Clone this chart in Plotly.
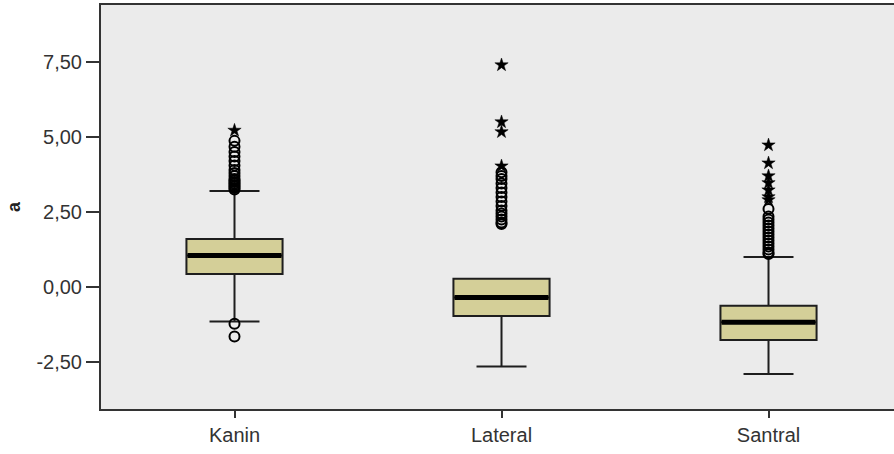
import plotly.graph_objects as go

# Group names and box statistics
groups = ["Kanin", "Lateral", "Santral"]
q1 = [0.43, -0.97, -1.77]
median = [1.05, -0.35, -1.18]
q3 = [1.60, 0.27, -0.63]
lower_whisker = [-1.15, -2.65, -2.90]
upper_whisker = [3.20, 0.27, 1.00]

# Outliers (circles) and extreme values (stars) per group
kanin_out = [3.25, 3.30, 3.35, 3.40, 3.45, 3.50, 3.55, 3.60, 3.70, 3.80, 3.90,
             4.05, 4.20, 4.35, 4.50, 4.67, 4.87, -1.23, -1.65]
kanin_ext = [5.22]
lateral_out = [2.10, 2.15, 2.25, 2.35, 2.45, 2.55, 2.70, 2.85, 3.00, 3.15,
               3.30, 3.45, 3.60, 3.70, 3.82]
lateral_ext = [4.03, 5.17, 5.50, 7.40]
santral_out = [1.10, 1.15, 1.25, 1.35, 1.45, 1.55, 1.65, 1.75, 1.85, 1.95,
               2.05, 2.15, 2.25, 2.35, 2.60]
santral_ext = [2.90, 3.00, 3.23, 3.47, 3.70, 4.13, 4.73]

y_ticks = [-2.5, 0.0, 2.5, 5.0, 7.5]
y_tick_labels = ["-2,50", "0,00", "2,50", "5,00", "7,50"]

box_width = 0.36
box_fill = "#D4CF98"
edge = "#1E1E1E"

fig = go.Figure()

fig.add_trace(go.Box(
    x=list(range(len(groups))),
    q1=q1, median=median, q3=q3,
    lowerfence=lower_whisker, upperfence=upper_whisker,
    width=box_width, whiskerwidth=0.52,
    fillcolor=box_fill,
    line=dict(color=edge, width=2),
    boxpoints=False,
    hoverinfo="skip",
    showlegend=False,
))

# Heavy median bars
for i, m in enumerate(median):
    fig.add_trace(go.Scatter(
        x=[i - box_width / 2 + 0.004, i + box_width / 2 - 0.004], y=[m, m],
        mode="lines", line=dict(color="black", width=5),
        showlegend=False, hoverinfo="skip",
    ))

outliers = [kanin_out, lateral_out, santral_out]
extremes = [kanin_ext, lateral_ext, santral_ext]
for i in range(len(groups)):
    fig.add_trace(go.Scatter(
        x=[i] * len(outliers[i]), y=outliers[i], mode="markers",
        marker=dict(symbol="circle-open", size=10, color="black",
                    line=dict(width=2, color="black")),
        showlegend=False, hoverinfo="skip",
    ))
    fig.add_trace(go.Scatter(
        x=[i] * len(extremes[i]), y=extremes[i], mode="markers",
        marker=dict(symbol="star", size=10, color="black",
                    line=dict(width=0.5, color="black")),
        showlegend=False, hoverinfo="skip",
    ))

fig.update_layout(
    width=894, height=454,
    margin=dict(l=101, r=0, t=5, b=45),
    paper_bgcolor="white",
    plot_bgcolor="#EBEBEB",
    font=dict(family="Liberation Sans, Arial, sans-serif", size=20, color="#333333"),
)

fig.update_xaxes(
    range=[-0.5, 2.47],
    tickmode="array", tickvals=list(range(len(groups))), ticktext=groups,
    ticks="outside", ticklen=7, tickwidth=1.5, tickcolor="#333333",
    showline=True, linecolor="#333333", linewidth=2, mirror=True,
    showgrid=False, zeroline=False,
    tickfont=dict(size=20),
)
fig.update_yaxes(
    range=[-4.07, 9.4],
    tickmode="array", tickvals=y_ticks, ticktext=y_tick_labels,
    ticks="outside", ticklen=13, tickwidth=2, tickcolor="#333333",
    showline=True, linecolor="#333333", linewidth=2,
    showgrid=False, zeroline=False,
    tickfont=dict(size=20),
    title=dict(text="<b>a</b>", font=dict(size=18, color="#222222"), standoff=11),
)

fig.write_html("out.html")
